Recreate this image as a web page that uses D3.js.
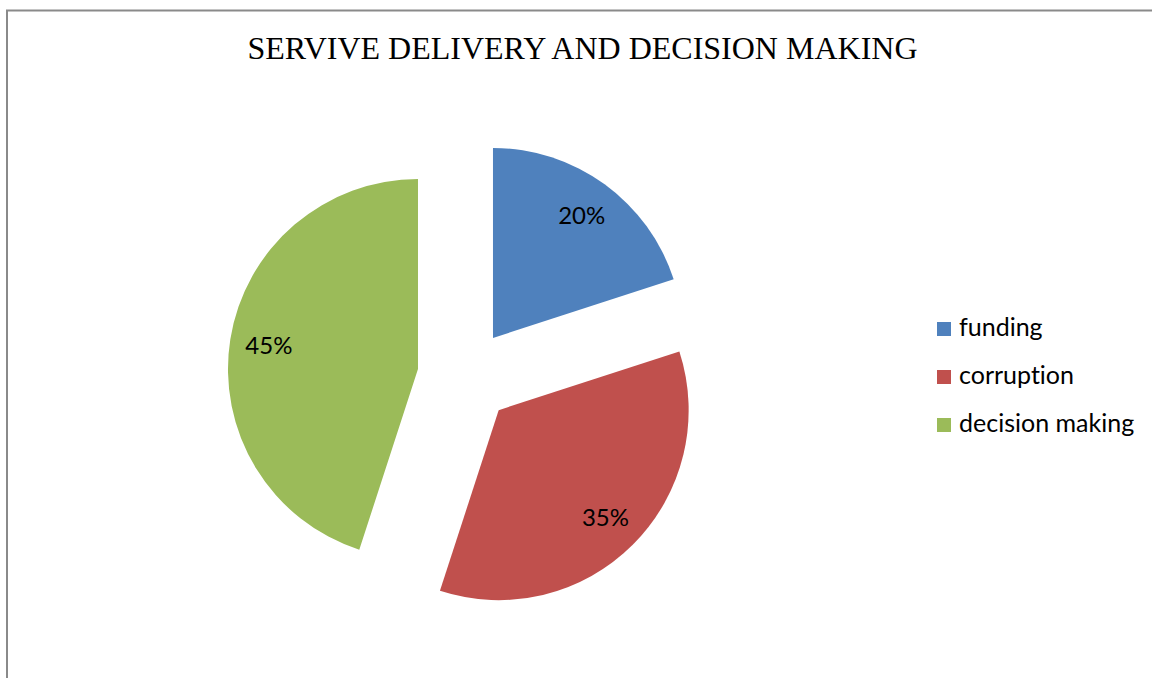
<!DOCTYPE html>
<html>
<head>
<meta charset="utf-8">
<script src="https://cdn.jsdelivr.net/npm/d3@7"></script>
<style>
  html, body { margin: 0; padding: 0; background: #fff; }
  svg { display: block; }
  text { font-variant-ligatures: none; font-feature-settings: "liga" 0, "clig" 0; }
</style>
</head>
<body>
<svg id="chart" width="1152" height="678"></svg>
<script>
// Share of responses by theme
const categories = ["funding", "corruption", "decision making"];
const values = [20, 35, 45];
const valueLabels = ["20%", "35%", "45%"];
const colors = ["#4F81BD", "#C0504D", "#9BBB59"];
const title = "SERVIVE DELIVERY AND DECISION MAKING";

const W = 1152, H = 678;
const svg = d3.select("#chart");

// Chart frame (left and top edges inside the window)
svg.append("path")
  .attr("d", `M7,${H} V10.5 H${W}`)
  .attr("fill", "none")
  .attr("stroke", "#8a8a8a")
  .attr("stroke-width", 2);

// Title
svg.append("text")
  .attr("x", 582.5)
  .attr("y", 59)
  .attr("text-anchor", "middle")
  .attr("font-family", "'Liberation Serif', 'Times New Roman', serif")
  .attr("font-size", 32)
  .attr("fill", "#000")
  .text(title);

// Exploded pie
const cx = 465, cy = 376.5, radius = 190, explode = 47.6;
const pie = d3.pie().sort(null).value(d => d.value).startAngle(0).endAngle(2 * Math.PI);
const data = categories.map((c, i) => ({ name: c, value: values[i], label: valueLabels[i], color: colors[i] }));
const arcs = pie(data);
const arc = d3.arc().innerRadius(0).outerRadius(radius);
const labelArc = d3.arc().innerRadius(151).outerRadius(151);

const g = svg.append("g").attr("transform", `translate(${cx},${cy})`);

const slices = g.selectAll("g.slice")
  .data(arcs)
  .join("g")
  .attr("class", "slice")
  .attr("transform", d => {
    const a = (d.startAngle + d.endAngle) / 2;
    return `translate(${explode * Math.sin(a)},${-explode * Math.cos(a)})`;
  });

slices.append("path")
  .attr("d", arc)
  .attr("fill", d => d.data.color);

slices.append("text")
  .attr("transform", d => `translate(${labelArc.centroid(d)})`)
  .attr("text-anchor", "middle")
  .attr("dy", "0.36em")
  .attr("font-family", "Lato, 'Open Sans', sans-serif")
  .attr("font-size", 24)
  .attr("fill", "#000")
  .text(d => d.data.label);

// Legend
const legend = svg.append("g").attr("transform", "translate(937,0)");
const rowY = d3.scalePoint().domain(categories).range([336, 432]);
const items = legend.selectAll("g.item")
  .data(data)
  .join("g")
  .attr("class", "item")
  .attr("transform", d => `translate(0,${rowY(d.name)})`);

items.append("rect")
  .attr("x", 0)
  .attr("y", -14)
  .attr("width", 14)
  .attr("height", 14)
  .attr("fill", d => d.color);

items.append("text")
  .attr("x", 22)
  .attr("y", 0)
  .attr("font-family", "Lato, 'Open Sans', sans-serif")
  .attr("font-size", 25)
  .attr("fill", "#000")
  .text(d => d.name);
</script>
</body>
</html>
